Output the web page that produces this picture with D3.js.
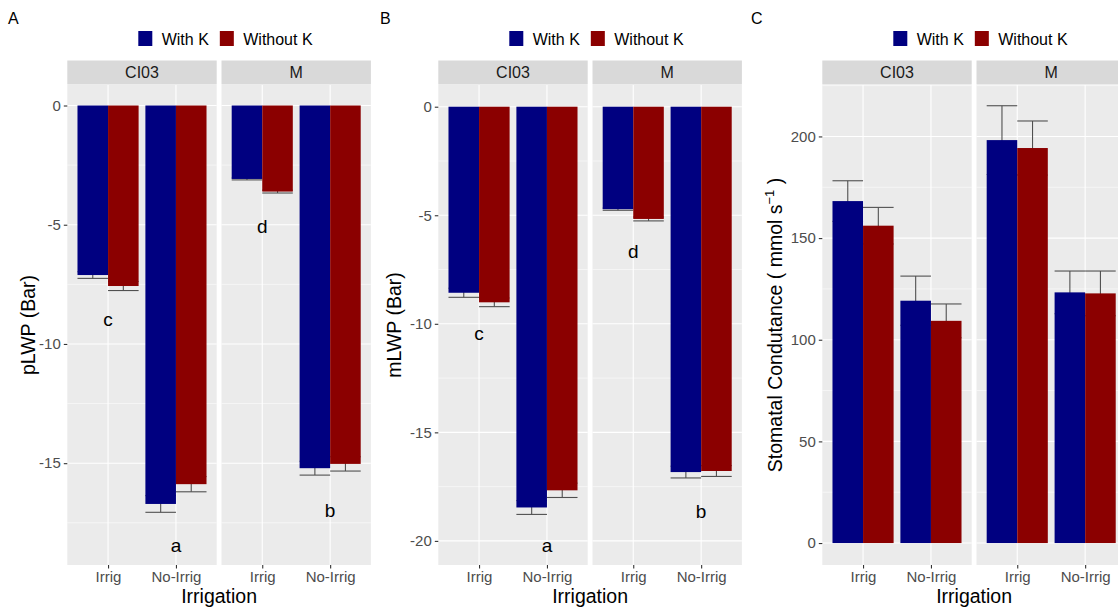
<!DOCTYPE html>
<html>
<head>
<meta charset="utf-8">
<script src="https://cdn.jsdelivr.net/npm/d3@7"></script>
<style>
  html, body { margin: 0; padding: 0; background: #fff; }
  svg { display: block; font-family: "Liberation Sans", Arial, sans-serif; }
</style>
</head>
<body>
<svg id="chart" width="1118" height="609"></svg>
<script>
// Factor levels
const genotypes = ["CI03", "M"];
const irrigation = ["Irrig", "No-Irrig"];
const treatments = ["With K", "Without K"];

// Values ordered: CI03 Irrig, CI03 No-Irrig, M Irrig, M No-Irrig
const pLWPWithK = [-7.11, -16.71, -3.08, -15.21];
const pLWPWithKSe = [0.14, 0.35, 0.04, 0.29];
const pLWPWithoutK = [-7.57, -15.88, -3.61, -15.03];
const pLWPWithoutKSe = [0.19, 0.32, 0.06, 0.30];
const pLWPLetters = ["c", "a", "d", "b"];
const pLWPLetterY = [-8.97, -18.43, -5.08, -16.96];
const pLWPTicks = [0, -5, -10, -15];

const mLWPWithK = [-8.57, -18.46, -4.72, -16.83];
const mLWPWithKSe = [0.21, 0.32, 0.05, 0.27];
const mLWPWithoutK = [-9.01, -17.67, -5.17, -16.78];
const mLWPWithoutKSe = [0.20, 0.33, 0.09, 0.25];
const mLWPLetters = ["c", "a", "d", "b"];
const mLWPLetterY = [-10.44, -20.19, -6.68, -18.63];
const mLWPTicks = [0, -5, -10, -15, -20];

const gsWithK = [168.2, 119.2, 198.2, 123.3];
const gsWithKSe = [10.0, 12.1, 16.9, 10.5];
const gsWithoutK = [156.1, 109.3, 194.3, 122.8];
const gsWithoutKSe = [9.0, 8.3, 13.3, 11.0];
const gsTicks = [0, 50, 100, 150, 200];

const fills = { "With K": "#000080", "Without K": "#8B0000" };

const svg = d3.select("#chart");

const panels = [
  { tag: "A", tagX: 8, left: 67.3, titleX: 35, title: "pLWP (Bar)",
    yDomain: [-19.27, 0.86], ticks: pLWPTicks,
    series: [[pLWPWithK, pLWPWithKSe], [pLWPWithoutK, pLWPWithoutKSe]],
    letters: pLWPLetters, letterY: pLWPLetterY },
  { tag: "B", tagX: 380, left: 438.3, titleX: 401, title: "mLWP (Bar)",
    yDomain: [-21.11, 1.0], ticks: mLWPTicks,
    series: [[mLWPWithK, mLWPWithKSe], [mLWPWithoutK, mLWPWithoutKSe]],
    letters: mLWPLetters, letterY: mLWPLetterY },
  { tag: "C", tagX: 751, left: 822.3, titleX: 782, title: null,
    yDomain: [-10.8, 225.3], ticks: gsTicks,
    series: [[gsWithK, gsWithKSe], [gsWithoutK, gsWithoutKSe]],
    letters: null, letterY: null }
];

const facetW = 149.4, facetGap = 4.8;
const stripTop = 60.5, stripH = 24, panelTop = 85, panelBottom = 565;

panels.forEach(p => {
  const g = svg.append("g");
  const y = d3.scaleLinear().domain(p.yDomain).range([panelBottom, panelTop]);
  const x = d3.scalePoint().domain(irrigation).range([0, facetW]).padding(0.6);
  const step = x.step();
  const dodge = d3.scaleBand().domain(treatments).range([-0.45 * step, 0.45 * step]);

  // panel tag
  g.append("text").attr("x", p.tagX).attr("y", 24).attr("font-size", 16)
    .attr("fill", "#000").text(p.tag);

  // minor grid values (midpoints between major ticks inside the domain)
  const tStep = Math.abs(p.ticks[1] - p.ticks[0]);
  const lo = Math.min(...p.yDomain), hi = Math.max(...p.yDomain);
  const minor = d3.range(Math.ceil((lo - tStep / 2) / tStep) * tStep + tStep / 2, hi, tStep)
    .filter(v => v >= lo && v <= hi);

  genotypes.forEach((gen, gi) => {
    const fx = p.left + gi * (facetW + facetGap);
    const fg = g.append("g").attr("transform", `translate(${fx},0)`);

    // strip
    fg.append("rect").attr("x", 0).attr("y", stripTop).attr("width", facetW)
      .attr("height", stripH).attr("fill", "#D9D9D9");
    fg.append("text").attr("x", facetW / 2).attr("y", stripTop + stripH / 2 + 5.8)
      .attr("text-anchor", "middle").attr("font-size", 16).attr("fill", "#1A1A1A").text(gen);

    // panel background + grid
    fg.append("rect").attr("x", 0).attr("y", panelTop).attr("width", facetW)
      .attr("height", panelBottom - panelTop).attr("fill", "#EBEBEB");
    fg.selectAll("line.minor").data(minor).join("line").attr("class", "minor")
      .attr("x1", 0).attr("x2", facetW).attr("y1", d => y(d)).attr("y2", d => y(d))
      .attr("stroke", "#fff").attr("stroke-width", 0.55);
    fg.selectAll("line.major").data(p.ticks).join("line").attr("class", "major")
      .attr("x1", 0).attr("x2", facetW).attr("y1", d => y(d)).attr("y2", d => y(d))
      .attr("stroke", "#fff").attr("stroke-width", 1.1);
    fg.selectAll("line.vmajor").data(irrigation).join("line").attr("class", "vmajor")
      .attr("x1", d => x(d)).attr("x2", d => x(d)).attr("y1", panelTop).attr("y2", panelBottom)
      .attr("stroke", "#fff").attr("stroke-width", 1.1);

    // records for this facet
    const recs = [];
    irrigation.forEach((irr, ii) => {
      treatments.forEach((tr, ti) => {
        const idx = gi * 2 + ii;
        recs.push({ irr, tr, v: p.series[ti][0][idx], se: p.series[ti][1][idx] });
      });
    });
    const bw = dodge.bandwidth();

    // error bars sit behind the bars
    const eb = fg.selectAll("g.err").data(recs).join("g").attr("class", "err")
      .attr("stroke", "#505050").attr("stroke-width", 1.1);
    eb.append("line")
      .attr("x1", d => x(d.irr) + dodge(d.tr) + bw / 2).attr("x2", d => x(d.irr) + dodge(d.tr) + bw / 2)
      .attr("y1", d => y(d.v - d.se)).attr("y2", d => y(d.v + d.se));
    eb.append("line")
      .attr("x1", d => x(d.irr) + dodge(d.tr)).attr("x2", d => x(d.irr) + dodge(d.tr) + bw)
      .attr("y1", d => y(d.v - d.se)).attr("y2", d => y(d.v - d.se));
    eb.append("line")
      .attr("x1", d => x(d.irr) + dodge(d.tr)).attr("x2", d => x(d.irr) + dodge(d.tr) + bw)
      .attr("y1", d => y(d.v + d.se)).attr("y2", d => y(d.v + d.se));

    fg.selectAll("rect.bar").data(recs).join("rect").attr("class", "bar")
      .attr("x", d => x(d.irr) + dodge(d.tr)).attr("width", bw)
      .attr("y", d => Math.min(y(0), y(d.v))).attr("height", d => Math.abs(y(0) - y(d.v)))
      .attr("fill", d => fills[d.tr]);

    // significance letters
    if (p.letters) {
      irrigation.forEach((irr, ii) => {
        const idx = gi * 2 + ii;
        fg.append("text").attr("x", x(irr)).attr("y", y(p.letterY[idx]))
          .attr("dy", "0.35em").attr("text-anchor", "middle").attr("font-size", 19)
          .attr("fill", "#000").text(p.letters[idx]);
      });
    }

    // x axis
    const xa = fg.append("g").attr("transform", `translate(0,${panelBottom})`)
      .call(d3.axisBottom(x).tickSize(3.5).tickPadding(3));
    xa.select(".domain").remove();
    xa.selectAll(".tick line").attr("stroke", "#333").attr("stroke-width", 1.1);
    xa.selectAll(".tick text").attr("font-size", 15).attr("fill", "#4D4D4D")
      .attr("font-family", "Liberation Sans, Arial, sans-serif");
  });

  // y axis
  const ya = g.append("g").attr("transform", `translate(${p.left},0)`)
    .call(d3.axisLeft(y).tickValues(p.ticks).tickFormat(d => String(d)).tickSize(3.5).tickPadding(3));
  ya.select(".domain").remove();
  ya.selectAll(".tick line").attr("stroke", "#333").attr("stroke-width", 1.1);
  ya.selectAll(".tick text").attr("font-size", 15).attr("fill", "#4D4D4D")
    .attr("font-family", "Liberation Sans, Arial, sans-serif");

  // axis titles
  const totalW = 2 * facetW + facetGap;
  g.append("text").attr("x", p.left + totalW / 2).attr("y", 603)
    .attr("text-anchor", "middle").attr("font-size", 19.5).attr("fill", "#000").text("Irrigation");

  const yt = g.append("text")
    .attr("transform", `translate(${p.titleX},${(panelTop + panelBottom) / 2}) rotate(-90)`)
    .attr("text-anchor", "middle").attr("font-size", 19.5).attr("fill", "#000");
  if (p.title) {
    yt.text(p.title);
  } else {
    yt.append("tspan").text("Stomatal Condutance ( mmol s");
    yt.append("tspan").attr("dy", -8).attr("font-size", 13).text("\u22121");
    yt.append("tspan").attr("dy", 8).text(" )");
  }

  // legend
  const lg = g.append("g").attr("transform", `translate(${p.left + 71},31)`);
  let lx = 0;
  treatments.forEach(tr => {
    lg.append("rect").attr("x", lx).attr("y", 0).attr("width", 14).attr("height", 15)
      .attr("fill", fills[tr]);
    const t = lg.append("text").attr("x", lx + 23.4).attr("y", 13.8)
      .attr("font-size", 16).attr("fill", "#000").text(tr);
    lx += 23.4 + t.node().getComputedTextLength() + 11;
  });
});
</script>
</body>
</html>
